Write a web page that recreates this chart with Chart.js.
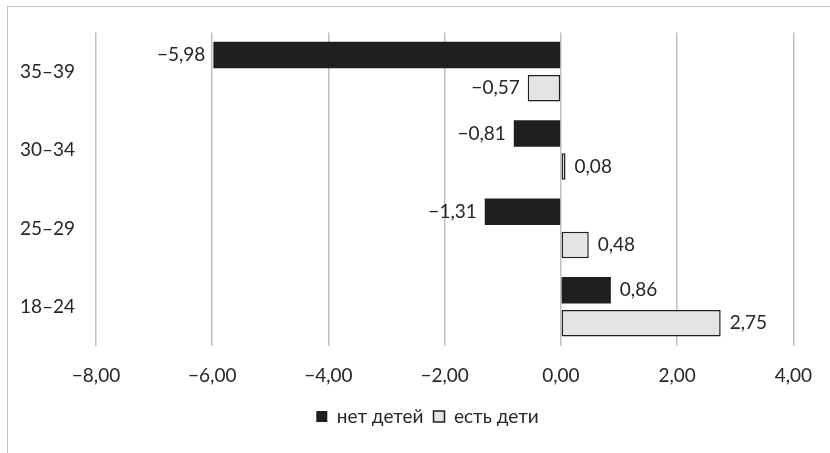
<!DOCTYPE html>
<html>
<head>
<meta charset="utf-8">
<script src="https://cdn.jsdelivr.net/npm/chart.js@4.4.1/dist/chart.umd.min.js"></script>
<style>
  html, body { margin: 0; padding: 0; background: #fff; overflow: hidden; }
  #frame { position: absolute; left: 7px; top: 6px; width: 1000px; height: 700px; border-top: 1px solid #c4c4c4; border-left: 1px solid #c4c4c4; }
  #wrap { position: absolute; left: 0; top: 0; width: 830px; height: 453px; }
</style>
</head>
<body>
<div id="frame"></div>
<div id="wrap"><canvas id="chart"></canvas></div>
<script>
//Age groups, top to bottom
var ageGroups = ['35–39', '30–34', '25–29', '18–24'];
//Values for each series
var noKids = [-5.98, -0.81, -1.31, 0.86];
var withKids = [-0.57, 0.08, 0.48, 2.75];
var seriesNames = ['нет детей', 'есть дети'];
//Axis range
var xMin = -8, xMax = 4, xStep = 2;

var fontFamily = 'Lato, "Open Sans", sans-serif';
var fontSize = 19;
var textColor = '#262626';

/*
    Formats a number the way the original does: comma decimal, real minus sign
*/
const fmt = (v) =>
{
    var s = Math.abs(v).toFixed(2).replace('.', ',');
    return (v < 0 ? '−' : '') + s;
}

//Draws the value next to the end of every bar
const barLabels = {
    id: 'barLabels',
    afterDatasetsDraw(chart)
    {
        var ctx = chart.ctx;
        ctx.save();
        ctx.font = fontSize + 'px ' + fontFamily;
        ctx.fillStyle = textColor;
        ctx.textBaseline = 'middle';
        chart.data.datasets.forEach(function (ds, i) {
            var meta = chart.getDatasetMeta(i);
            meta.data.forEach(function (bar, j) {
                var v = ds.data[j];
                if (v < 0) {
                    ctx.textAlign = 'right';
                    ctx.fillText(fmt(v), bar.x - 8, bar.y);
                } else {
                    ctx.textAlign = 'left';
                    ctx.fillText(fmt(v), bar.x + 9, bar.y);
                }
            });
        });
        ctx.restore();
    }
};

//The legend in the original sits a bit right of centre, nudge it over
const legendShift = {
    id: 'legendShift',
    beforeDraw(chart)
    {
        var lg = chart.legend;
        if (!lg || lg._shifted) return;
        lg.left += 30;
        lg.right += 30;
        lg.adjustHitBoxes();
        lg._shifted = true;
    }
};

new Chart(document.getElementById('chart'), {
    type: 'bar',
    data: {
        labels: ageGroups,
        datasets: [{
            label: seriesNames[0],
            data: noKids,
            backgroundColor: '#1f1f1f',
            borderColor: '#1f1f1f',
            borderWidth: 0,
            barPercentage: 0.8,
            categoryPercentage: 0.845
        }, {
            label: seriesNames[1],
            data: withKids,
            backgroundColor: '#e4e4e4',
            borderColor: '#1f1f1f',
            borderWidth: 1.5,
            borderSkipped: false,
            barPercentage: 0.8,
            categoryPercentage: 0.845
        }]
    },
    options: {
        indexAxis: 'y',
        responsive: true,
        maintainAspectRatio: false,
        animation: false,
        layout: { padding: { top: 30, right: 35, bottom: 17, left: 0 } },
        scales: {
            x: {
                min: xMin,
                max: xMax,
                ticks: {
                    stepSize: xStep,
                    padding: 18,
                    color: textColor,
                    font: { family: fontFamily, size: fontSize },
                    callback: (v) => fmt(v)
                },
                grid: { color: '#bfbfbf', lineWidth: 1.5, drawTicks: false },
                border: { display: false },
                afterFit: (scale) => { scale.height = 51; }
            },
            y: {
                ticks: {
                    padding: 21,
                    color: textColor,
                    font: { family: fontFamily, size: fontSize }
                },
                grid: { display: false, drawTicks: false },
                border: { display: false },
                afterFit: (scale) => { scale.width = 96; }
            }
        },
        plugins: {
            legend: {
                position: 'bottom',
                labels: {
                    boxWidth: 11,
                    boxHeight: 11,
                    padding: 10,
                    color: textColor,
                    font: { family: fontFamily, size: fontSize }
                }
            },
            tooltip: { enabled: false }
        }
    },
    plugins: [barLabels, legendShift]
});
</script>
</body>
</html>
